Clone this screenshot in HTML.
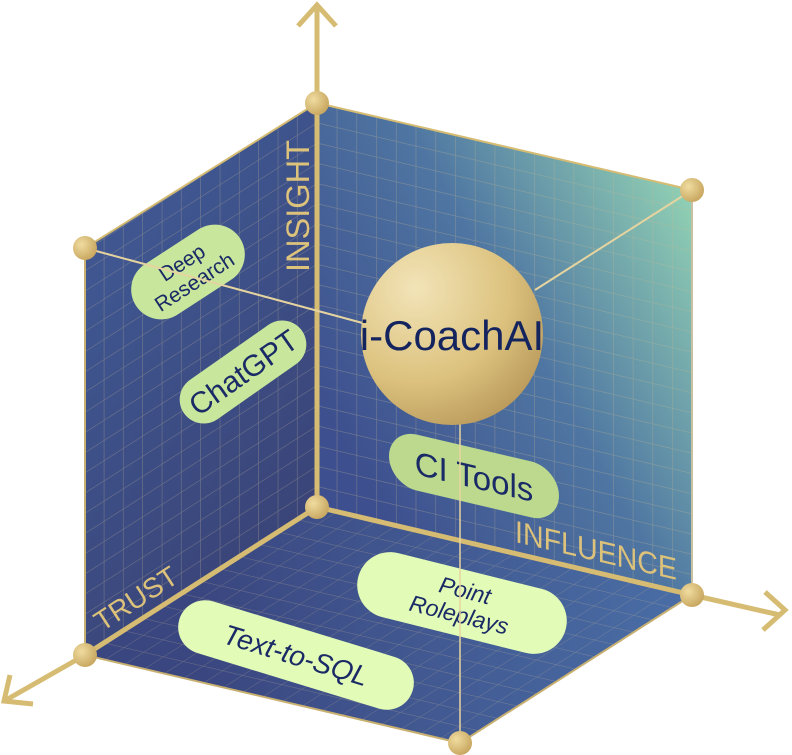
<!DOCTYPE html>
<html><head><meta charset="utf-8"><style>
html,body{margin:0;padding:0;background:#fff}
svg{display:block}
text{font-family:"Liberation Sans","DejaVu Sans",sans-serif}
</style></head><body>
<svg width="792" height="755" viewBox="0 0 792 755" xmlns="http://www.w3.org/2000/svg">
<defs>
<linearGradient id="gb" x1="317" y1="400" x2="692" y2="190" gradientUnits="userSpaceOnUse">
<stop offset="0" stop-color="#3d4f8e"/><stop offset="0.5" stop-color="#4f76a2"/><stop offset="1" stop-color="#92d2b4"/></linearGradient>
<linearGradient id="gl" x1="85" y1="300" x2="317" y2="500" gradientUnits="userSpaceOnUse">
<stop offset="0" stop-color="#3f5690"/><stop offset="1" stop-color="#3a4478"/></linearGradient>
<linearGradient id="gf" x1="200" y1="600" x2="692" y2="600" gradientUnits="userSpaceOnUse">
<stop offset="0" stop-color="#3a4680"/><stop offset="1" stop-color="#4a6ea6"/></linearGradient>
<radialGradient id="gs" cx="0.3" cy="0.25" r="0.85">
<stop offset="0" stop-color="#f2e4b8"/><stop offset="0.6" stop-color="#dcc27e"/><stop offset="1" stop-color="#b8985a"/></radialGradient>
<radialGradient id="gn" cx="0.35" cy="0.35" r="0.75">
<stop offset="0" stop-color="#f0dca0"/><stop offset="1" stop-color="#c4a25a"/></radialGradient>
<pattern id="pb" width="1" height="1" patternUnits="userSpaceOnUse" patternTransform="matrix(19.737,4.632,0,-20.2,317,507)">
<path d="M0,0H1M0,0V1" stroke="#c8b890" stroke-opacity="0.4" stroke-width="0.06" fill="none"/></pattern>
<pattern id="pl" width="1" height="1" patternUnits="userSpaceOnUse" patternTransform="matrix(-19.333,12.333,0,-20.2,317,507)">
<path d="M0,0H1M0,0V1" stroke="#c8b890" stroke-opacity="0.4" stroke-width="0.06" fill="none"/></pattern>
<pattern id="pf" width="1" height="1" patternUnits="userSpaceOnUse" patternTransform="matrix(19.737,4.632,-19.333,12.333,317,507)">
<path d="M0,0H1M0,0V1" stroke="#c8b890" stroke-opacity="0.35" stroke-width="0.06" fill="none"/></pattern>
</defs>
<polygon points="317,103 85,248 85,655 317,507" fill="url(#gl)"/>
<polygon points="317,103 85,248 85,655 317,507" fill="url(#pl)"/>
<polygon points="317,103 692,190 692,595 317,507" fill="url(#gb)"/>
<polygon points="317,103 692,190 692,595 317,507" fill="url(#pb)"/>
<polygon points="317,507 85,655 460,743 692,595" fill="url(#gf)"/>
<polygon points="317,507 85,655 460,743 692,595" fill="url(#pf)"/>
<g stroke="#d6bc72" fill="none">
<polyline points="85,248 317,103 692,190" stroke-width="2"/>
<line x1="85" y1="248" x2="85" y2="655" stroke-width="2" stroke="#c8b070"/>
<line x1="692" y1="190" x2="692" y2="595" stroke-width="2" stroke="#c8c0a0"/>
<polyline points="85,655 460,743 692,595" stroke-width="2" stroke="#c8b070"/>
<line x1="317" y1="507" x2="85" y2="655" stroke-width="5"/>
<line x1="317" y1="507" x2="692" y2="595" stroke-width="5"/>
<line x1="317" y1="5" x2="317" y2="507" stroke-width="5"/>
<polyline points="298,26 317,5 336,26" stroke-width="5"/>
<line x1="692" y1="595" x2="780" y2="615" stroke-width="5"/>
<polyline points="765,592 785,610 763,630" stroke-width="5"/>
<line x1="85" y1="655" x2="6" y2="700" stroke-width="5"/>
<polyline points="10,675 4,701 33,704" stroke-width="5"/>
</g>
<text x="0" y="0" transform="translate(309,272) rotate(-90)" font-size="32" fill="#dcc27a" textLength="132" lengthAdjust="spacingAndGlyphs">INSIGHT</text>
<text x="0" y="0" transform="translate(515,542) skewY(13.2)" font-size="31" fill="#dcc27a" textLength="162" lengthAdjust="spacingAndGlyphs">INFLUENCE</text>
<text x="0" y="0" transform="translate(102,632) rotate(-33)" font-size="28" fill="#dcc27a">TRUST</text>
<g transform="translate(188,272) rotate(-33)">
<rect x="-62" y="-30" width="124" height="60" rx="30" fill="#c8e69c"/>
<text y="-4" text-anchor="middle" font-size="21" fill="#1a2a66">Deep</text>
<text y="19" text-anchor="middle" font-size="21" fill="#1a2a66">Research</text>
</g>
<g transform="translate(243,372) rotate(-35)">
<rect x="-72" y="-24" width="144" height="48" rx="24" fill="#c8e69c"/>
<text y="11" text-anchor="middle" font-size="30" fill="#1a2a66">ChatGPT</text>
</g>
<g transform="translate(474,476) skewY(13.2)">
<rect x="-85" y="-28" width="170" height="56" rx="28" fill="#bcd98e"/>
<text y="12" text-anchor="middle" font-size="33" fill="#1a2a66">CI Tools</text>
</g>
<g transform="translate(462,603) rotate(14)">
<rect x="-107" y="-33" width="214" height="66" rx="33" fill="#e2fbb6"/>
<text y="-5" text-anchor="middle" font-size="23" fill="#1a2a66" font-style="italic">Point</text>
<text y="20" text-anchor="middle" font-size="23" fill="#1a2a66" font-style="italic">Roleplays</text>
</g>
<g transform="translate(296,655) rotate(17)">
<rect x="-122" y="-27" width="244" height="54" rx="27" fill="#e2fbb6"/>
<text y="10" text-anchor="middle" font-size="28" fill="#1a2a66" font-style="italic">Text-to-SQL</text>
</g>
<g stroke="#e6d4a0" stroke-width="2" fill="none">
<line x1="85" y1="248" x2="370" y2="325"/>
<line x1="692" y1="190" x2="535" y2="290"/>
<line x1="460" y1="420" x2="460" y2="742" stroke-width="1.5"/>
</g>
<circle cx="452" cy="334" r="91" fill="url(#gs)"/>
<text x="452" y="350" text-anchor="middle" font-size="42" fill="#14245e">i-CoachAI</text>
<g fill="url(#gn)">
<circle cx="317" cy="103" r="12"/><circle cx="85" cy="248" r="12"/><circle cx="692" cy="190" r="12"/>
<circle cx="317" cy="507" r="12"/><circle cx="692" cy="595" r="12"/><circle cx="85" cy="655" r="12"/>
<circle cx="460" cy="743" r="12"/>
</g>
</svg>
</body></html>
